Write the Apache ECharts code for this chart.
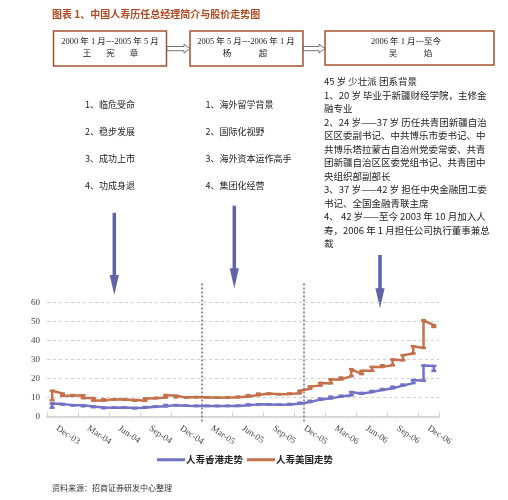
<!DOCTYPE html>
<html>
<head>
<meta charset="utf-8">
<script src="https://cdn.jsdelivr.net/npm/echarts@6/dist/echarts.min.js"></script>
<style>html,body{margin:0;padding:0;background:#fff}#c{width:508px;height:500px}</style>
</head>
<body>
<div id="c"></div>
<script>
// ---- data ----
const months = ['Dec-03','Jan-04','Feb-04','Mar-04','Apr-04','May-04','Jun-04','Jul-04','Aug-04','Sep-04','Oct-04','Nov-04','Dec-04','Jan-05','Feb-05','Mar-05','Apr-05','May-05','Jun-05','Jul-05','Aug-05','Sep-05','Oct-05','Nov-05','Dec-05','Jan-06','Feb-06','Mar-06','Apr-06','May-06','Jun-06','Jul-06','Aug-06','Sep-06','Oct-06','Nov-06','Dec-06','Jan-07'];
// 人寿香港走势: first / last value within each month
const hkFirst = [4.5,6.5,5.9,5.8,5.2,4.6,4.5,4.6,4.4,4.5,5.0,5.3,5.9,5.6,5.5,5.5,5.4,5.5,5.5,5.8,6.3,6.2,6.1,6.2,6.6,7.6,8.8,9.5,10.4,11.1,11.9,12.8,13.9,14.8,16.2,17.6,18.8,26.6];
const hkLast  = [6.8,6.2,5.7,5.3,4.8,4.3,4.6,4.5,4.2,4.9,5.2,6.0,5.7,5.6,5.5,5.5,5.5,5.5,5.7,6.3,6.3,6.1,6.1,6.5,7.2,8.2,9.4,10.4,10.9,12.8,12.4,13.4,14.4,15.6,16.8,19.2,26.8,24.0];
// 人寿美国走势
const usFirst = [8.5,12.0,10.9,11.1,9.6,8.3,9.0,8.9,8.6,8.2,9.5,9.9,10.8,10.0,10.1,10.0,9.8,9.9,10.0,10.4,11.2,12.0,11.7,11.8,12.2,14.6,16.2,17.4,19.5,21.2,22.3,24.0,26.1,27.0,29.6,33.2,36.1,48.1];
const usLast  = [13.5,10.9,11.2,9.6,8.3,9.0,8.9,8.8,8.2,9.4,9.8,11.2,10.0,10.0,10.2,10.0,9.8,10.0,10.4,11.2,12.0,11.7,11.7,12.1,13.5,15.8,17.6,19.5,20.5,24.9,24.0,26.1,27.0,30.0,32.3,37.0,50.7,47.2];
const yTicks = [0,10,20,30,40,50,60];
const seriesNames = ['人寿香港走势','人寿美国走势'];
// era boundaries, in month-index units
const eraBounds = [14.5, 24.4];

const chartTitle = '图表 1、中国人寿历任总经理简介与股价走势图';
const periods = ['2000 年 1 月---2005 年 5 月','2005 年 5 月---2006 年 1 月','2006 年 1 月---至今'];
const managers = [['王','宪','章'],['杨','超'],['吴','焰']];
const listA = ['1、临危受命','2、稳步发展','3、成功上市','4、功成身退'];
const listB = ['1、海外留学背景','2、国际化视野','3、海外资本运作高手','4、集团化经营'];
const bioLines = [
'45 岁 少壮派 团系背景',
'1、20 岁 毕业于新疆财经学院，主修金',
'融专业',
'2、24 岁——37 岁 历任共青团新疆自治',
'区区委副书记、中共博乐市委书记、中',
'共博乐塔拉蒙古自治州党委常委、共青',
'团新疆自治区区委党组书记、共青团中',
'央组织部副部长',
'3、37 岁——42 岁 担任中央金融团工委',
'书记、全国金融青联主席',
'4、 42 岁——至今 2003 年 10 月加入人',
'寿，2006 年 1 月担任公司执行董事兼总',
'裁'
];
const sourceText = '资料来源：招商证券研发中心整理';

function pairs(first, last){
  const out = [];
  first.forEach((v,i)=>{ out.push([i, v]); out.push([i, last[i]]); });
  return out;
}

const SERIF = "'Liberation Serif','DejaVu Serif','Noto Sans CJK SC',serif";
const CJK = "'Noto Sans CJK SC',sans-serif";
const BROWN = '#A5532F';
const PURPLE = '#6262A6';
const BLUE = '#7272C6';
const ORANGE = '#C4714C';

const g = [];
function txt(x,y,t,opt){
  opt = opt || {};
  g.push({type:'text', x:x, y:y, silent:true, style:{text:t, fill:opt.fill||'#222',
    font:(opt.weight||'normal')+' '+(opt.size||9)+'px '+(opt.family||CJK),
    align:opt.align||'left', verticalAlign:'middle'}});
}
// title
txt(52,14,chartTitle,{fill:'#AD4A22',weight:'bold',size:10});
// boxes
const boxes = [[53.5,31,113,35],[190,31,113,35],[325,31,169,34]];
boxes.forEach(b=>g.push({type:'rect',shape:{x:b[0],y:b[1],width:b[2],height:b[3]},style:{fill:'#fff',stroke:BROWN,lineWidth:1.5}}));
const pCenters = [110,246,406];
periods.forEach((p,i)=>txt(pCenters[i],41.5,p,{align:'center',size:8.5,family:SERIF}));
const nameX = [[87,110.5,134],[227,263],[393,428]];
managers.forEach((m,i)=>m.forEach((c,j)=>txt(nameX[i][j],53,c,{align:'center',size:8.5})));
// hollow arrows between boxes
function hollow(x0,x1){
  const y=48.6;
  g.push({type:'polygon',shape:{points:[[x0,y-2.1],[x1-6,y-2.1],[x1-6,y-4.4],[x1,y],[x1-6,y+4.4],[x1-6,y+2.1],[x0,y+2.1]]},
    style:{fill:'#fff',stroke:'#666',lineWidth:0.9}});
}
hollow(167,190); hollow(303.5,325);
// lists
listA.forEach((t,i)=>txt(85,105+27*i,t,{size:9}));
listB.forEach((t,i)=>txt(205.5,105+27*i,t,{size:9}));
bioLines.forEach((t,i)=>txt(324,81.5+13.5*i,t,{size:9.5}));
// purple arrows
function down(x,y0,y1){
  g.push({type:'line',shape:{x1:x,y1:y0,x2:x,y2:y1-18},style:{stroke:PURPLE,lineWidth:3.5}});
  g.push({type:'polygon',shape:{points:[[x-4.6,y1-20],[x+4.6,y1-20],[x,y1]]},style:{fill:PURPLE}});
}
down(114.3,212.7,295); down(234.3,205.7,288.3); down(380,255,308.3);
// source
txt(52,488,sourceText,{size:8,fill:'#333'});

const chart = echarts.init(document.getElementById('c'));
chart.setOption({
  animation:false,
  backgroundColor:'#fff',
  grid:[
    {left:47,right:69,top:302.7,bottom:83.7,containLabel:false,outerBoundsMode:'none'},
    {left:47,right:69,top:282.7,bottom:78.5,containLabel:false,outerBoundsMode:'none'}
  ],
  xAxis:[
    {type:'category',gridIndex:0,data:months,boundaryGap:true,
      axisLine:{lineStyle:{color:'#cfcfcf',width:1.5}},
      axisTick:{show:true,inside:true,length:4,interval:2,lineStyle:{color:'#cfcfcf'}},
      axisLabel:{interval:2,rotate:-34,margin:8,fontSize:9,color:'#444',fontFamily:SERIF,hideOverlap:false,padding:[0,0,0,6]},
      splitLine:{show:false}},
    {type:'value',gridIndex:1,min:-0.5,max:months.length-0.5,show:false}
  ],
  yAxis:[
    {type:'value',gridIndex:0,min:yTicks[0],max:yTicks[yTicks.length-1],interval:10,
      axisLine:{show:false},axisTick:{show:false},
      axisLabel:{fontSize:9,color:'#444',fontFamily:SERIF,margin:7},
      splitLine:{lineStyle:{color:'#cfcfcf',type:[3,3],width:1}}},
    {type:'value',gridIndex:1,min:0,max:1,show:false}
  ],
  legend:{data:seriesNames,left:157,top:455,padding:0,icon:'rect',itemWidth:28,itemHeight:3,itemGap:4,
    textStyle:{fontSize:9.5,fontWeight:'bold',color:'#222',fontFamily:CJK,padding:[0,0,0,-4]}},
  series:[
    {name:seriesNames[0],type:'line',xAxisIndex:0,yAxisIndex:0,data:pairs(hkFirst,hkLast),
      color:BLUE,lineStyle:{width:2.5,color:BLUE},symbol:'rect',symbolSize:[5,2.5],showSymbol:true,showAllSymbol:true,
      itemStyle:{color:BLUE},z:3},
    {name:seriesNames[1],type:'line',xAxisIndex:0,yAxisIndex:0,data:pairs(usFirst,usLast),
      color:ORANGE,lineStyle:{width:2.5,color:ORANGE},symbol:'rect',symbolSize:[5,2.5],showSymbol:true,showAllSymbol:true,
      itemStyle:{color:ORANGE},z:3},
    {name:'era',type:'line',xAxisIndex:1,yAxisIndex:1,data:[],silent:true,
      markLine:{silent:true,symbol:['none','none'],label:{show:false},
        lineStyle:{color:'#777',type:[2,2],width:1.6},
        data:eraBounds.map(v=>({xAxis:v}))},z:5}
  ],
  graphic:g
});
</script>
</body>
</html>
